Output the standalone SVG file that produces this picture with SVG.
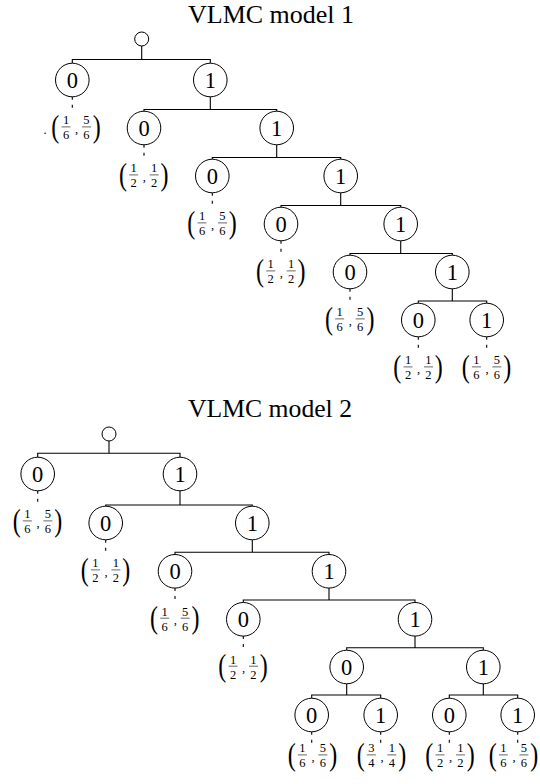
<svg xmlns="http://www.w3.org/2000/svg" width="540" height="784" viewBox="0 0 540 784" font-family="Liberation Serif, serif">
<style>
text{fill:#000;font-family:Liberation Serif,serif}
.title{font-size:25px}
.nd circle{fill:#fff;stroke:#000;stroke-width:1}
.nd>text{font-size:22.5px;text-anchor:middle}
.par{font-size:24px;text-anchor:middle}
.fr{font-size:12.5px;text-anchor:middle}
.bar{stroke:#000;stroke-width:0.6}
.e{fill:none;stroke:#000;stroke-width:1.1}
.d{fill:none;stroke:#000;stroke-width:1.1;stroke-dasharray:3 5}
</style>
<text class="title" x="188" y="23" textLength="166" lengthAdjust="spacingAndGlyphs">VLMC model 1</text>
<text class="title" x="188" y="416.5" textLength="164" lengthAdjust="spacingAndGlyphs">VLMC model 2</text>

<g id="connectors">
<path class="e" d="M141.7 46V59.5M72.3 63.2V59.5H210.3V63.2"/>
<path class="e" d="M210.3 96.8V109.5M144 111.2V109.5H276.7V111.2"/>
<path class="e" d="M276.7 144.8V157.5M212.3 159.2V157.5H340.7V159.2"/>
<path class="e" d="M340.7 192.8V205.5M281 207.2V205.5H400.7V207.2"/>
<path class="e" d="M400.7 240.8V253.5M350 255.2V253.5H452.3V255.2"/>
<path class="e" d="M452.3 288.8V301M418.3 303.2V301H486.7V303.2"/>
<path class="d" d="M72.3 96.8V109M144 144.8V157M212.3 192.8V205M281 240.8V253M350 288.8V301M418.3 336.8V349M486.7 336.8V349"/>

<path class="e" d="M109 441V453.3M37.7 457.2V453.3H180V457.2"/>
<path class="e" d="M180 490.8V505M105.7 506.2V505H252.3V506.2"/>
<path class="e" d="M252.3 539.8V552.3M175 554.5V552.3H329V554.5"/>
<path class="e" d="M329 588.1V600M243.3 602.5V600H415V602.5"/>
<path class="e" d="M415 636.1V647.7M346.7 650.2V647.7H483.3V650.2"/>
<path class="e" d="M346.7 683.8V695M311.7 698.2V695H380.7V698.2"/>
<path class="e" d="M483.3 683.8V695M449.3 698.2V695H517.7V698.2"/>
<path class="d" d="M37.7 490.8V503M105.7 539.8V552M175 588.1V600.3M243.3 636.1V648.3M311.7 731.8V744M380.7 731.8V744M449.3 731.8V744M517.7 731.8V744"/>
</g>

<!-- Model 1 -->
<g id="m1-root" class="nd" transform="translate(141.7,39)"><circle r="7"/></g>
<g id="m1-0" class="nd" transform="translate(72.3,80)"><circle r="16.8"/><text y="7.7">0</text>
 <g transform="translate(3.5,48.5)"><text class="fr" x="-30.8" y="5.5">.</text><text class="par" transform="translate(-20.5,8.1) scale(1,1.3)">(</text><text class="fr" x="-9.8" y="-4.3">1</text><line class="bar" x1="-14.3" x2="-5.3" y1="-1.6" y2="-1.6"/><text class="fr" x="-9.8" y="10.8">6</text><text class="fr" x="0.8" y="4">,</text><text class="fr" x="10.7" y="-4.3">5</text><line class="bar" x1="6.2" x2="15.2" y1="-1.6" y2="-1.6"/><text class="fr" x="10.7" y="10.8">6</text><text class="par" transform="translate(21,8.1) scale(1,1.3)">)</text></g></g>
<g id="m1-1" class="nd" transform="translate(210.3,80)"><circle r="16.8"/><text y="7.7">1</text></g>
<g id="m1-10" class="nd" transform="translate(144,128)"><circle r="16.8"/><text y="7.7">0</text>
 <g transform="translate(-0.5,48.5)"><text class="par" transform="translate(-20.5,8.1) scale(1,1.3)">(</text><text class="fr" x="-9.8" y="-4.3">1</text><line class="bar" x1="-14.3" x2="-5.3" y1="-1.6" y2="-1.6"/><text class="fr" x="-9.8" y="10.8">2</text><text class="fr" x="0.8" y="4">,</text><text class="fr" x="10.7" y="-4.3">1</text><line class="bar" x1="6.2" x2="15.2" y1="-1.6" y2="-1.6"/><text class="fr" x="10.7" y="10.8">2</text><text class="par" transform="translate(21,8.1) scale(1,1.3)">)</text></g></g>
<g id="m1-11" class="nd" transform="translate(276.7,128)"><circle r="16.8"/><text y="7.7">1</text></g>
<g id="m1-110" class="nd" transform="translate(212.3,176)"><circle r="16.8"/><text y="7.7">0</text>
 <g transform="translate(-0.5,48.5)"><text class="par" transform="translate(-20.5,8.1) scale(1,1.3)">(</text><text class="fr" x="-9.8" y="-4.3">1</text><line class="bar" x1="-14.3" x2="-5.3" y1="-1.6" y2="-1.6"/><text class="fr" x="-9.8" y="10.8">6</text><text class="fr" x="0.8" y="4">,</text><text class="fr" x="10.7" y="-4.3">5</text><line class="bar" x1="6.2" x2="15.2" y1="-1.6" y2="-1.6"/><text class="fr" x="10.7" y="10.8">6</text><text class="par" transform="translate(21,8.1) scale(1,1.3)">)</text></g></g>
<g id="m1-111" class="nd" transform="translate(340.7,176)"><circle r="16.8"/><text y="7.7">1</text></g>
<g id="m1-1110" class="nd" transform="translate(281,224)"><circle r="16.8"/><text y="7.7">0</text>
 <g transform="translate(-0.5,48.5)"><text class="par" transform="translate(-20.5,8.1) scale(1,1.3)">(</text><text class="fr" x="-9.8" y="-4.3">1</text><line class="bar" x1="-14.3" x2="-5.3" y1="-1.6" y2="-1.6"/><text class="fr" x="-9.8" y="10.8">2</text><text class="fr" x="0.8" y="4">,</text><text class="fr" x="10.7" y="-4.3">1</text><line class="bar" x1="6.2" x2="15.2" y1="-1.6" y2="-1.6"/><text class="fr" x="10.7" y="10.8">2</text><text class="par" transform="translate(21,8.1) scale(1,1.3)">)</text></g></g>
<g id="m1-1111" class="nd" transform="translate(400.7,224)"><circle r="16.8"/><text y="7.7">1</text></g>
<g id="m1-11110" class="nd" transform="translate(350,272)"><circle r="16.8"/><text y="7.7">0</text>
 <g transform="translate(-0.5,48.5)"><text class="par" transform="translate(-20.5,8.1) scale(1,1.3)">(</text><text class="fr" x="-9.8" y="-4.3">1</text><line class="bar" x1="-14.3" x2="-5.3" y1="-1.6" y2="-1.6"/><text class="fr" x="-9.8" y="10.8">6</text><text class="fr" x="0.8" y="4">,</text><text class="fr" x="10.7" y="-4.3">5</text><line class="bar" x1="6.2" x2="15.2" y1="-1.6" y2="-1.6"/><text class="fr" x="10.7" y="10.8">6</text><text class="par" transform="translate(21,8.1) scale(1,1.3)">)</text></g></g>
<g id="m1-11111" class="nd" transform="translate(452.3,272)"><circle r="16.8"/><text y="7.7">1</text></g>
<g id="m1-111110" class="nd" transform="translate(418.3,320)"><circle r="16.8"/><text y="7.7">0</text>
 <g transform="translate(-0.5,48.5)"><text class="par" transform="translate(-20.5,8.1) scale(1,1.3)">(</text><text class="fr" x="-9.8" y="-4.3">1</text><line class="bar" x1="-14.3" x2="-5.3" y1="-1.6" y2="-1.6"/><text class="fr" x="-9.8" y="10.8">2</text><text class="fr" x="0.8" y="4">,</text><text class="fr" x="10.7" y="-4.3">1</text><line class="bar" x1="6.2" x2="15.2" y1="-1.6" y2="-1.6"/><text class="fr" x="10.7" y="10.8">2</text><text class="par" transform="translate(21,8.1) scale(1,1.3)">)</text></g></g>
<g id="m1-111111" class="nd" transform="translate(486.7,320)"><circle r="16.8"/><text y="7.7">1</text>
 <g transform="translate(-0.5,48.5)"><text class="par" transform="translate(-20.5,8.1) scale(1,1.3)">(</text><text class="fr" x="-9.8" y="-4.3">1</text><line class="bar" x1="-14.3" x2="-5.3" y1="-1.6" y2="-1.6"/><text class="fr" x="-9.8" y="10.8">6</text><text class="fr" x="0.8" y="4">,</text><text class="fr" x="10.7" y="-4.3">5</text><line class="bar" x1="6.2" x2="15.2" y1="-1.6" y2="-1.6"/><text class="fr" x="10.7" y="10.8">6</text><text class="par" transform="translate(21,8.1) scale(1,1.3)">)</text></g></g>

<!-- Model 2 -->
<g id="m2-root" class="nd" transform="translate(109,434)"><circle r="7"/></g>
<g id="m2-0" class="nd" transform="translate(37.7,474)"><circle r="16.8"/><text y="7.7">0</text>
 <g transform="translate(-0.5,48.5)"><text class="par" transform="translate(-20.5,8.1) scale(1,1.3)">(</text><text class="fr" x="-9.8" y="-4.3">1</text><line class="bar" x1="-14.3" x2="-5.3" y1="-1.6" y2="-1.6"/><text class="fr" x="-9.8" y="10.8">6</text><text class="fr" x="0.8" y="4">,</text><text class="fr" x="10.7" y="-4.3">5</text><line class="bar" x1="6.2" x2="15.2" y1="-1.6" y2="-1.6"/><text class="fr" x="10.7" y="10.8">6</text><text class="par" transform="translate(21,8.1) scale(1,1.3)">)</text></g></g>
<g id="m2-1" class="nd" transform="translate(180,474)"><circle r="16.8"/><text y="7.7">1</text></g>
<g id="m2-10" class="nd" transform="translate(105.7,523)"><circle r="16.8"/><text y="7.7">0</text>
 <g transform="translate(-0.5,48.5)"><text class="par" transform="translate(-20.5,8.1) scale(1,1.3)">(</text><text class="fr" x="-9.8" y="-4.3">1</text><line class="bar" x1="-14.3" x2="-5.3" y1="-1.6" y2="-1.6"/><text class="fr" x="-9.8" y="10.8">2</text><text class="fr" x="0.8" y="4">,</text><text class="fr" x="10.7" y="-4.3">1</text><line class="bar" x1="6.2" x2="15.2" y1="-1.6" y2="-1.6"/><text class="fr" x="10.7" y="10.8">2</text><text class="par" transform="translate(21,8.1) scale(1,1.3)">)</text></g></g>
<g id="m2-11" class="nd" transform="translate(252.3,523)"><circle r="16.8"/><text y="7.7">1</text></g>
<g id="m2-110" class="nd" transform="translate(175,571.3)"><circle r="16.8"/><text y="7.7">0</text>
 <g transform="translate(-0.5,48.5)"><text class="par" transform="translate(-20.5,8.1) scale(1,1.3)">(</text><text class="fr" x="-9.8" y="-4.3">1</text><line class="bar" x1="-14.3" x2="-5.3" y1="-1.6" y2="-1.6"/><text class="fr" x="-9.8" y="10.8">6</text><text class="fr" x="0.8" y="4">,</text><text class="fr" x="10.7" y="-4.3">5</text><line class="bar" x1="6.2" x2="15.2" y1="-1.6" y2="-1.6"/><text class="fr" x="10.7" y="10.8">6</text><text class="par" transform="translate(21,8.1) scale(1,1.3)">)</text></g></g>
<g id="m2-111" class="nd" transform="translate(329,571.3)"><circle r="16.8"/><text y="7.7">1</text></g>
<g id="m2-1110" class="nd" transform="translate(243.3,619.3)"><circle r="16.8"/><text y="7.7">0</text>
 <g transform="translate(-0.5,48.5)"><text class="par" transform="translate(-20.5,8.1) scale(1,1.3)">(</text><text class="fr" x="-9.8" y="-4.3">1</text><line class="bar" x1="-14.3" x2="-5.3" y1="-1.6" y2="-1.6"/><text class="fr" x="-9.8" y="10.8">2</text><text class="fr" x="0.8" y="4">,</text><text class="fr" x="10.7" y="-4.3">1</text><line class="bar" x1="6.2" x2="15.2" y1="-1.6" y2="-1.6"/><text class="fr" x="10.7" y="10.8">2</text><text class="par" transform="translate(21,8.1) scale(1,1.3)">)</text></g></g>
<g id="m2-1111" class="nd" transform="translate(415,619.3)"><circle r="16.8"/><text y="7.7">1</text></g>
<g id="m2-11110" class="nd" transform="translate(346.7,667)"><circle r="16.8"/><text y="7.7">0</text></g>
<g id="m2-11111" class="nd" transform="translate(483.3,667)"><circle r="16.8"/><text y="7.7">1</text></g>
<g id="m2-111100" class="nd" transform="translate(311.7,715)"><circle r="16.8"/><text y="7.7">0</text>
 <g transform="translate(0.5,41.5)"><text class="par" transform="translate(-20.5,8.1) scale(1,1.3)">(</text><text class="fr" x="-9.8" y="-4.3">1</text><line class="bar" x1="-14.3" x2="-5.3" y1="-1.6" y2="-1.6"/><text class="fr" x="-9.8" y="10.8">6</text><text class="fr" x="0.8" y="4">,</text><text class="fr" x="10.7" y="-4.3">5</text><line class="bar" x1="6.2" x2="15.2" y1="-1.6" y2="-1.6"/><text class="fr" x="10.7" y="10.8">6</text><text class="par" transform="translate(21,8.1) scale(1,1.3)">)</text></g></g>
<g id="m2-111101" class="nd" transform="translate(380.7,715)"><circle r="16.8"/><text y="7.7">1</text>
 <g transform="translate(0.5,41.5)"><text class="par" transform="translate(-20.5,8.1) scale(1,1.3)">(</text><text class="fr" x="-9.8" y="-4.3">3</text><line class="bar" x1="-14.3" x2="-5.3" y1="-1.6" y2="-1.6"/><text class="fr" x="-9.8" y="10.8">4</text><text class="fr" x="0.8" y="4">,</text><text class="fr" x="10.7" y="-4.3">1</text><line class="bar" x1="6.2" x2="15.2" y1="-1.6" y2="-1.6"/><text class="fr" x="10.7" y="10.8">4</text><text class="par" transform="translate(21,8.1) scale(1,1.3)">)</text></g></g>
<g id="m2-111110" class="nd" transform="translate(449.3,715)"><circle r="16.8"/><text y="7.7">0</text>
 <g transform="translate(0.5,41.5)"><text class="par" transform="translate(-20.5,8.1) scale(1,1.3)">(</text><text class="fr" x="-9.8" y="-4.3">1</text><line class="bar" x1="-14.3" x2="-5.3" y1="-1.6" y2="-1.6"/><text class="fr" x="-9.8" y="10.8">2</text><text class="fr" x="0.8" y="4">,</text><text class="fr" x="10.7" y="-4.3">1</text><line class="bar" x1="6.2" x2="15.2" y1="-1.6" y2="-1.6"/><text class="fr" x="10.7" y="10.8">2</text><text class="par" transform="translate(21,8.1) scale(1,1.3)">)</text></g></g>
<g id="m2-111111" class="nd" transform="translate(517.7,715)"><circle r="16.8"/><text y="7.7">1</text>
 <g transform="translate(-4.5,41.5)"><text class="par" transform="translate(-20.5,8.1) scale(1,1.3)">(</text><text class="fr" x="-9.8" y="-4.3">1</text><line class="bar" x1="-14.3" x2="-5.3" y1="-1.6" y2="-1.6"/><text class="fr" x="-9.8" y="10.8">6</text><text class="fr" x="0.8" y="4">,</text><text class="fr" x="10.7" y="-4.3">5</text><line class="bar" x1="6.2" x2="15.2" y1="-1.6" y2="-1.6"/><text class="fr" x="10.7" y="10.8">6</text><text class="par" transform="translate(21,8.1) scale(1,1.3)">)</text></g></g>
</svg>
